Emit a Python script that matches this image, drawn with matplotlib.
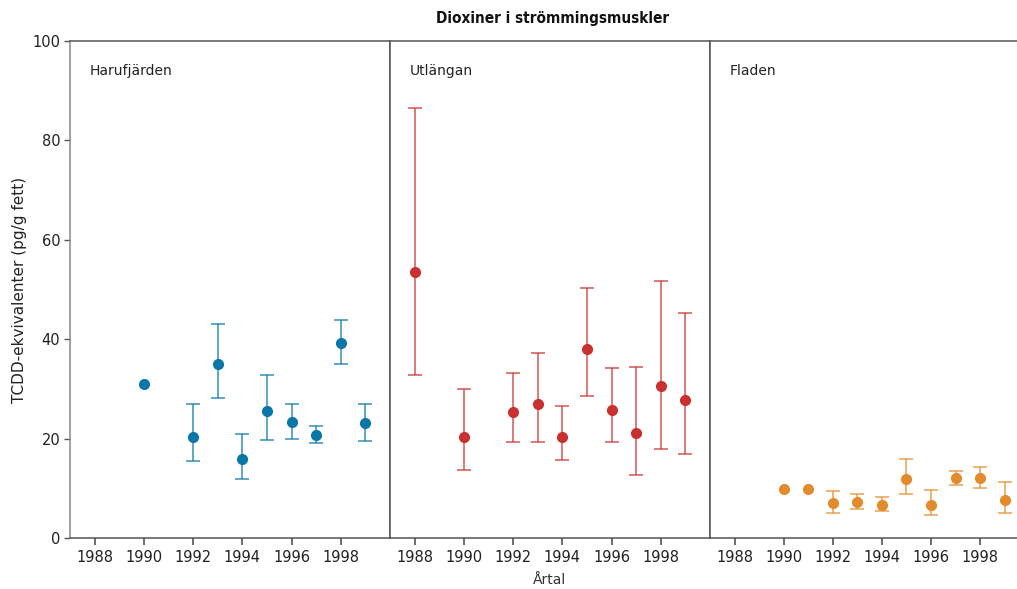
import numpy as np
import matplotlib
matplotlib.use("Agg")
import matplotlib.pyplot as plt

plt.rcParams['font.family'] = ['DejaVu Sans']

# data: mean, upper and lower end of the error bar
# (nan = no error bar)
years_har = [1990, 1992, 1993, 1994, 1995, 1996, 1997, 1998, 1999]
mean_har = [31.0, 20.4, 35.0, 15.9, 25.5, 23.3, 20.7, 39.2, 23.1]
hi_har = [np.nan, 27.0, 43.0, 21.0, 32.7, 26.9, 22.5, 43.9, 27.0]
lo_har = [np.nan, 15.4, 28.2, 11.9, 19.8, 19.9, 19.1, 35.1, 19.5]

years_utl = [1988, 1990, 1992, 1993, 1994, 1995, 1996, 1997, 1998, 1999]
mean_utl = [53.5, 20.4, 25.4, 27.0, 20.4, 38.1, 25.8, 21.1, 30.6, 27.8]
hi_utl = [86.5, 30.0, 33.1, 37.2, 26.5, 50.3, 34.2, 34.5, 51.8, 45.2]
lo_utl = [32.8, 13.7, 19.3, 19.4, 15.6, 28.6, 19.4, 12.7, 18.0, 17.0]

years_fla = [1990, 1991, 1992, 1993, 1994, 1995, 1996, 1997, 1998, 1999]
mean_fla = [9.9, 9.9, 7.0, 7.2, 6.6, 11.9, 6.6, 12.1, 12.0, 7.7]
hi_fla = [np.nan, np.nan, 9.5, 8.9, 8.2, 15.8, 9.6, 13.5, 14.2, 11.3]
lo_fla = [np.nan, np.nan, 5.1, 5.8, 5.5, 8.8, 4.6, 10.7, 10.1, 5.0]

stations = ["Harufjärden", "Utlängan", "Fladen"]
colors = ["#0a77a8", "#c9302f", "#e38b2c"]
series = [
    (years_har, mean_har, hi_har, lo_har),
    (years_utl, mean_utl, hi_utl, lo_utl),
    (years_fla, mean_fla, hi_fla, lo_fla),
]
xticks = [1988, 1990, 1992, 1994, 1996, 1998]

W, H = 1017, 589
fig = plt.figure(figsize=(W / 100, H / 100), dpi=100)

frame = "#555555"
left_px, top_px, bot_px = 70, 41, 538
panel_px = [(70, 390, 2000.0), (390, 710, 2000.0), (710, 1017, 1999.5)]

axes = []
for i, (x0, x1, xmax) in enumerate(panel_px):
    ax = fig.add_axes([x0 / W, (H - bot_px) / H, (x1 - x0) / W, (bot_px - top_px) / H])
    yrs, m, hi, lo = series[i]
    m = np.array(m)
    hi = np.array(hi)
    lo = np.array(lo)
    err = np.vstack([np.nan_to_num(m - lo), np.nan_to_num(hi - m)])
    has = ~np.isnan(hi)
    ax.errorbar(np.array(yrs)[has], m[has], yerr=err[:, has], fmt='none',
                ecolor=colors[i], alpha=0.75, elinewidth=1.2, capsize=5,
                capthick=1.2, zorder=2)
    ax.plot(yrs, m, 'o', color=colors[i], markersize=7, zorder=3)
    ax.set_xlim(1987, xmax)
    ax.set_ylim(0, 100)
    ax.set_xticks(xticks)
    ax.set_xticklabels([str(t) for t in xticks])
    ax.set_yticks([0, 20, 40, 60, 80, 100])
    ax.tick_params(axis='x', colors=frame, labelcolor="#222222", labelsize=10.5,
                   length=5, width=1.2, pad=4)
    ax.tick_params(axis='y', colors=frame, labelcolor="#222222", labelsize=10.5,
                   length=4, width=1, pad=3)
    for s in ax.spines.values():
        s.set_color(frame)
        s.set_linewidth(1.1)
    ax.spines['left'].set_color("#888888")
    if i > 0:
        ax.spines['left'].set_color(frame)
        ax.tick_params(axis='y', left=False, labelleft=False)
    if i == 2:
        ax.spines['right'].set_visible(False)
    ax.text(20 / (x1 - x0), 1 - 30 / (bot_px - top_px), stations[i],
            transform=ax.transAxes, fontsize=10, color="#222222", va='center')
    axes.append(ax)

axes[0].set_ylabel("TCDD-ekvivalenter (pg/g fett)", fontsize=11, color="#222222", labelpad=4)
fig.text(550 / W, 1 - 580 / H, "Årtal", ha='center', va='center', fontsize=10, color="#333333")
fig.text(553 / W, 1 - 18 / H, "Dioxiner i strömmingsmuskler", ha='center', va='center',
         fontsize=11, fontweight='bold', fontstretch='condensed', color="#111111")

fig.savefig("out.png", dpi=100)
